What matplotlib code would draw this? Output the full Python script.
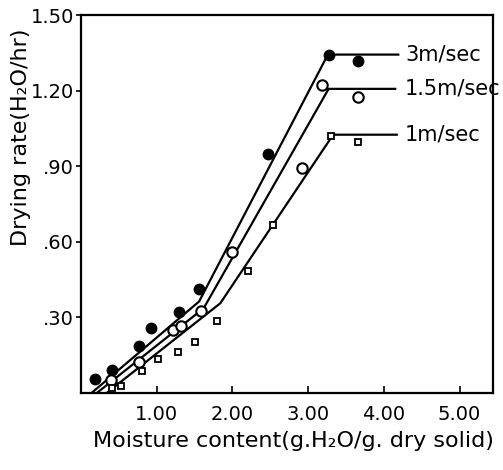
import matplotlib
matplotlib.use("Agg")
import matplotlib.pyplot as plt

# Measured points
x_3 = [0.18, 0.41, 0.77, 0.92, 1.29, 1.56, 2.47, 3.27, 3.66]
y_3 = [0.056, 0.09, 0.188, 0.257, 0.32, 0.412, 0.948, 1.343, 1.316]

x_15 = [0.40, 0.77, 1.21, 1.32, 1.59, 2.00, 2.92, 3.18, 3.66]
y_15 = [0.052, 0.122, 0.25, 0.266, 0.326, 0.561, 0.893, 1.224, 1.173]

x_1 = [0.41, 0.53, 0.81, 1.02, 1.28, 1.50, 1.79, 2.20, 2.54, 3.30, 3.66]
y_1 = [0.019, 0.029, 0.087, 0.135, 0.164, 0.204, 0.286, 0.482, 0.665, 1.018, 0.996]

# Fitted lines (piecewise)
fx_3 = [0.14, 1.56, 3.26, 4.19]
fy_3 = [0.0, 0.363, 1.343, 1.343]
fx_15 = [0.21, 1.62, 3.27, 4.15]
fy_15 = [0.0, 0.336, 1.207, 1.207]
fx_1 = [0.34, 1.84, 3.33, 4.17]
fy_1 = [0.0, 0.356, 1.025, 1.025]

labels = ["3m/sec", "1.5m/sec", "1m/sec"]
label_y = [1.343, 1.207, 1.025]

xticks = [1, 2, 3, 4, 5]
xticklabels = ["1.00", "2.00", "3.00", "4.00", "5.00"]
yticks = [0.3, 0.6, 0.9, 1.2, 1.5]
yticklabels = [".30", ".60", ".90", "1.20", "1.50"]

fig = plt.figure(figsize=(5.03, 4.70), dpi=100)
ax = fig.add_axes([0.161, 0.164, 0.819, 0.804])

for fx, fy in [(fx_3, fy_3), (fx_15, fy_15), (fx_1, fy_1)]:
    ax.plot(fx, fy, color="black", lw=1.6, clip_on=True)

ax.plot(x_3, y_3, "o", color="black", ms=7.5)
ax.plot(x_15, y_15, "o", mfc="white", mec="black", mew=1.5, ms=7.5)
ax.plot(x_1, y_1, "s", mfc="white", mec="black", mew=1.3, ms=5)

for lab, ly in zip(labels, label_y):
    ax.text(4.28, ly, lab, fontsize=15, va="center", ha="left")

ax.set_xlim(0, 5.44)
ax.set_ylim(0, 1.5)
ax.set_xticks(xticks)
ax.set_xticklabels(xticklabels, fontsize=14)
ax.set_yticks(yticks)
ax.set_yticklabels(yticklabels, fontsize=14)
ax.tick_params(axis="x", direction="in", length=5, width=1.2, pad=9)
ax.tick_params(axis="y", direction="out", length=3.5, width=1.2, pad=1.5)
for s in ax.spines.values():
    s.set_linewidth(1.6)

ax.set_xlabel("Moisture content(g.H₂O/g. dry solid)", fontsize=16)
ax.xaxis.set_label_coords(0.515, -0.100)
ax.set_ylabel("Drying rate(H₂O/hr)", fontsize=16)
ax.yaxis.set_label_coords(-0.122, 0.677)

fig.savefig("out.png", dpi=100)
